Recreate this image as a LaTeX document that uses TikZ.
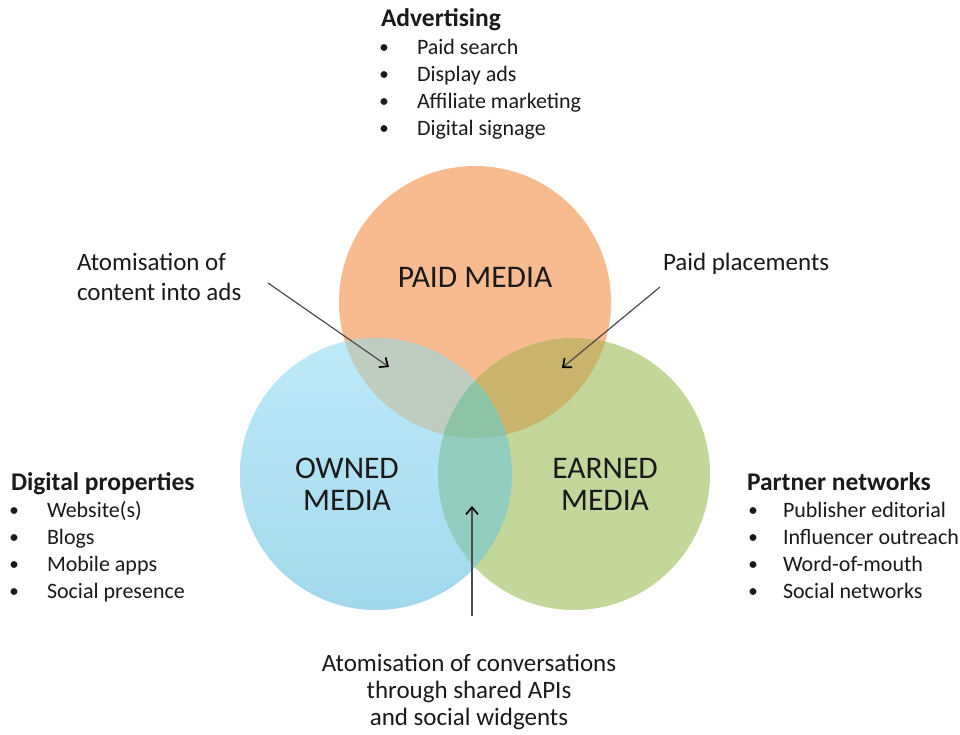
\documentclass[tikz,border=0pt]{standalone}
\usepackage{fontspec}
\setmainfont{Carlito}
\usetikzlibrary{arrows.meta}
\definecolor{paidc}{HTML}{F8BB8F}
\definecolor{ownedtop}{HTML}{BDEAF8}
\definecolor{ownedbot}{HTML}{A2D8EC}
\definecolor{earnedc}{HTML}{C4D79B}
\definecolor{poc}{HTML}{BFCDC0}
\definecolor{pec}{HTML}{C8B46A}
\definecolor{oec}{HTML}{93CDC0}
\definecolor{poec}{HTML}{8CC3A5}
\definecolor{txt}{HTML}{1A1A1A}
\begin{document}
\begin{tikzpicture}[x=1pt,y=-1pt,
  every node/.style={inner sep=0pt,outer sep=0pt,text=txt},
  head/.style={font=\fontsize{25.5}{28}\selectfont\bfseries,anchor=mid west},
  item/.style={font=\fontsize{22}{26}\selectfont,anchor=mid west},
  bul/.style={font=\fontsize{16}{20}\selectfont\bfseries,anchor=mid},
  circlab/.style={font=\fontsize{31.5}{36}\selectfont,anchor=mid},
  note/.style={font=\fontsize{25}{30}\selectfont},
  conn/.style={draw=black!70,line width=1.2pt,-{Straight Barb[length=7pt,width=12pt,line width=1.7pt,color=black]}}]
\useasboundingbox[fill=white] (0,0) rectangle (960,734);
\coordinate (P) at (475,302);
\coordinate (O) at (376,474);
\coordinate (E) at (574,474);
% circles
\fill[paidc] (P) circle (136pt);
\shade[top color=ownedtop,bottom color=ownedbot] (O) circle (136pt);
\fill[earnedc] (E) circle (136pt);
\begin{scope}\clip (P) circle (136pt);\fill[poc] (O) circle (136pt);\end{scope}
\begin{scope}\clip (P) circle (136pt);\fill[pec] (E) circle (136pt);\end{scope}
\begin{scope}\clip (O) circle (136pt);\fill[oec] (E) circle (136pt);\end{scope}
\begin{scope}\clip (P) circle (136pt);\clip (O) circle (136pt);\fill[poec] (E) circle (136pt);\end{scope}
% circle labels
\node[circlab] (paid) at (475,285) {PAID MEDIA};
\node[circlab] (owned1) at (347,476) {OWNED};
\node[circlab] (owned2) at (347,508) {MEDIA};
\node[circlab] (earned1) at (605,476) {EARNED};
\node[circlab] (earned2) at (605,508) {MEDIA};
% Advertising
\node[head] (adh) at (381,24) {Advertising};
\node[bul] (ab1) at (384,50) {•};
\node[item] (a1) at (417,52) {Paid search};
\node[bul] (ab2) at (384,77) {•};
\node[item] (a2) at (417,79) {Display ads};
\node[bul] (ab3) at (384,104) {•};
\node[item] (a3) at (417,106) {Affiliate marketing};
\node[bul] (ab4) at (384,131) {•};
\node[item] (a4) at (417,133) {Digital signage};
% Digital properties
\node[head] (dph) at (11,488) {Digital properties};
\node[bul] (db1) at (14,513) {•};
\node[item] (d1) at (47,515) {Website(s)};
\node[bul] (db2) at (14,540) {•};
\node[item] (d2) at (47,542) {Blogs};
\node[bul] (db3) at (14,567) {•};
\node[item] (d3) at (47,569) {Mobile apps};
\node[bul] (db4) at (14,594) {•};
\node[item] (d4) at (47,596) {Social presence};
% Partner networks
\node[head] (pnh) at (747,488) {Partner networks};
\node[bul] (pb1) at (753,513) {•};
\node[item] (p1) at (783,515) {Publisher editorial};
\node[bul] (pb2) at (753,540) {•};
\node[item] (p2) at (783,542) {Influencer outreach};
\node[bul] (pb3) at (753,567) {•};
\node[item] (p3) at (783,569) {Word-of-mouth};
\node[bul] (pb4) at (753,594) {•};
\node[item] (p4) at (783,596) {Social networks};
% annotations
\node[note,anchor=mid west] (atads1) at (77,268) {Atomisation of};
\node[note,anchor=mid west] (atads2) at (77,298) {content into ads};
\node[note,anchor=mid west] (pp) at (663,268) {Paid placements};
\node[note,anchor=mid] (atconv1) at (469,669) {Atomisation of conversations};
\node[note,anchor=mid] (atconv2) at (469,696) {through shared APIs};
\node[note,anchor=mid] (atconv3) at (469,723) {and social widgents};
% arrow ends
\coordinate (a1s) at (268,283);
\coordinate (a1e) at (389,367);
\coordinate (a2s) at (660,287);
\coordinate (a2e) at (562,368);
\coordinate (a3s) at (472,616);
\coordinate (a3e) at (472,506);
\draw[conn] (a1s) -- (a1e);
\draw[conn] (a2s) -- (a2e);
\draw[conn] (a3s) -- (a3e);
\end{tikzpicture}
\end{document}
